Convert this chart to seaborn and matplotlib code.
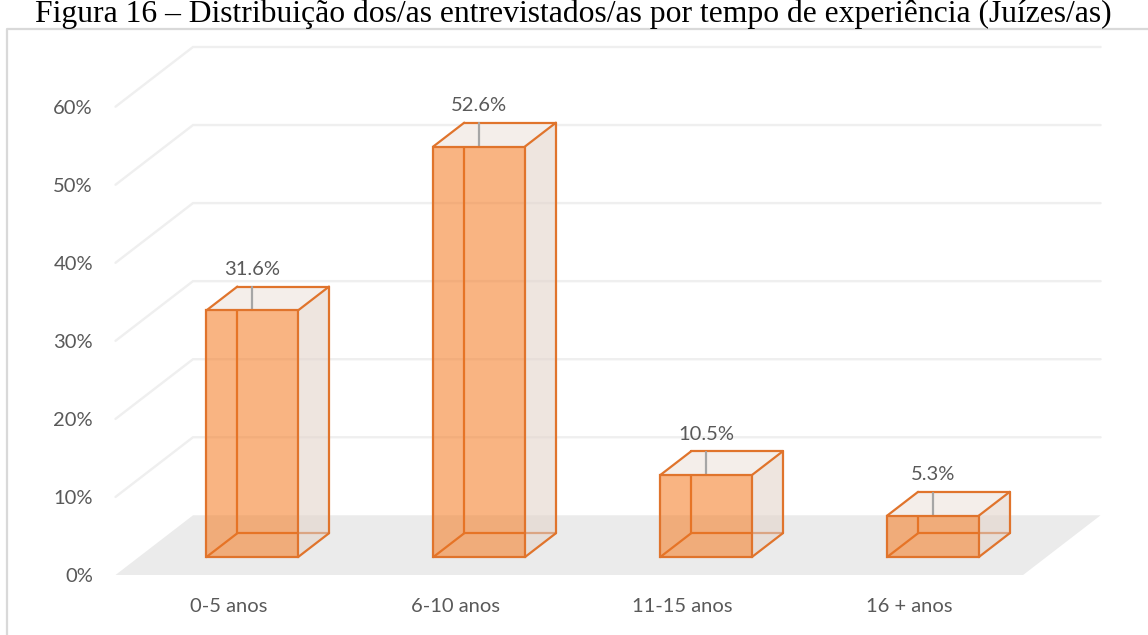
import matplotlib
matplotlib.use("Agg")
import matplotlib.pyplot as plt
import seaborn as sns
from matplotlib.patches import Polygon
from matplotlib.lines import Line2D

# ---------------- data ----------------
categories = ["0-5 anos", "6-10 anos", "11-15 anos", "16 + anos"]
values = [31.6, 52.6, 10.5, 5.3]
value_labels = ["31.6%", "52.6%", "10.5%", "5.3%"]
y_ticks = [0, 10, 20, 30, 40, 50, 60]
y_tick_labels = ["0%", "10%", "20%", "30%", "40%", "50%", "60%"]
title = "Figura 16 \u2013 Distribui\u00e7\u00e3o dos/as entrevistados/as por tempo de experi\u00eancia (Ju\u00edzes/as)"

# ---------------- style ----------------
sns.set_theme(style="white")
plt.rcParams['font.family'] = ['Lato', 'DejaVu Sans']

W, H = 1148, 635
fig = plt.figure(figsize=(W / 100, H / 100), dpi=100)

# projection geometry (pixels)
PX_LEFT, PX_SLOT, PY_ZERO, PX_PCT = 115.5, 226.9, 575.0, 7.805
DEPTH_DX, DEPTH_DY = 77.5, 59.7
KX = DEPTH_DX / PX_SLOT          # slots per unit depth
KY = DEPTH_DY / PX_PCT           # percent per unit depth
D0, D1 = 0.30, 0.70              # bar depth range
BAR_W = 0.404

xlim = ((0 - PX_LEFT) / PX_SLOT - 0.5, (W - PX_LEFT) / PX_SLOT - 0.5)
ylim = ((PY_ZERO - H) / PX_PCT, PY_ZERO / PX_PCT)

ax = fig.add_axes([0, 0, 1, 1])
ax.set_xlim(xlim)
ax.set_ylim(ylim)
ax.axis('off')


def P(x, v, d):
    return (x + KX * d, v + KY * d)


n = len(categories)
x_lo, x_hi = -0.5, n - 0.5

# floor
ax.add_patch(Polygon([P(x_lo, 0, 0), P(x_hi, 0, 0), P(x_hi, 0, 1), P(x_lo, 0, 1)],
                     closed=True, facecolor='#EBEBEB', edgecolor='none', zorder=1))

# gridlines on side/back walls
for v in y_ticks[1:]:
    pts = [P(x_lo, v, 0), P(x_lo, v, 1), P(x_hi, v, 1)]
    ax.plot([p[0] for p in pts], [p[1] for p in pts], color='#EFEFEF', lw=1.7,
            solid_joinstyle='miter', zorder=2)

EDGE = '#E0742C'
HIDDEN = '#D0601A'
FRONT = (245 / 255, 130 / 255, 47 / 255, 0.6)


def seg(a, b, color, z):
    ax.plot([a[0], b[0]], [a[1], b[1]], color=color, lw=1.6, zorder=z,
            solid_capstyle='round')


for i, v in enumerate(values):
    x0, x1 = i - BAR_W / 2, i + BAR_W / 2
    # hidden edges
    seg(P(x0, 0, D1), P(x0, v, D1), HIDDEN, 3)
    seg(P(x0, 0, D1), P(x1, 0, D1), HIDDEN, 3)
    seg(P(x0, 0, D0), P(x0, 0, D1), HIDDEN, 3)
    # right side face
    ax.add_patch(Polygon([P(x1, 0, D0), P(x1, 0, D1), P(x1, v, D1), P(x1, v, D0)],
                         closed=True, facecolor=(227 / 255, 212 / 255, 203 / 255, 0.6),
                         edgecolor='none', zorder=4))
    # top face
    ax.add_patch(Polygon([P(x0, v, D0), P(x1, v, D0), P(x1, v, D1), P(x0, v, D1)],
                         closed=True, facecolor='#F4EEEA', edgecolor='none', zorder=4))
    # visible edges
    seg(P(x0, v, D1), P(x1, v, D1), EDGE, 5)
    seg(P(x0, v, D0), P(x0, v, D1), EDGE, 5)
    seg(P(x1, v, D0), P(x1, v, D1), EDGE, 5)
    seg(P(x1, 0, D1), P(x1, v, D1), EDGE, 5)
    seg(P(x1, 0, D0), P(x1, 0, D1), EDGE, 5)
    # data label + leader line
    lx, ly = P(i, v, D0)[0], v + KY * D1 + 2.2
    ax.text(lx, ly, value_labels[i], ha='center', va='center', fontsize=14.5,
            color='#595959', zorder=7)
    seg((lx, ly - 2.3), P(i, v, D0), '#A6A6A6', 6)

# front faces drawn by seaborn on an overlay axes shifted to depth D0
axf = fig.add_axes([0, 0, 1, 1])
axf.patch.set_visible(False)
sns.barplot(x=categories, y=values, ax=axf, width=BAR_W, facecolor=FRONT,
            edgecolor=EDGE, linewidth=1.6)
axf.set_xlim(xlim[0] - KX * D0, xlim[1] - KX * D0)
axf.set_ylim(ylim[0] - KY * D0, ylim[1] - KY * D0)
axf.axis('off')

# y tick labels
for v, lab in zip(y_ticks, y_tick_labels):
    ax.text(x_lo - 22.5 / PX_SLOT, v - 0.2, lab, ha='right', va='center',
            fontsize=14.5, color='#595959')

# x category labels
for i, lab in enumerate(categories):
    ax.text(i, -4.06, lab, ha='center', va='center', fontsize=14.5, color='#595959')

# frame
fig.add_artist(Line2D([7 / W, 7 / W, 1.01], [-0.01, 1 - 29 / H, 1 - 29 / H],
                      transform=fig.transFigure, color='#D9D9D9', lw=1.6))

# title
t = fig.text(573 / W, 1 - 22 / H, title, ha='center', va='baseline',
             family='Liberation Serif', fontsize=21, color='black')
fig.canvas.draw()
w = t.get_window_extent().width
t.set_fontsize(21 * 1076 / w)

fig.savefig('out.png', dpi=100)
